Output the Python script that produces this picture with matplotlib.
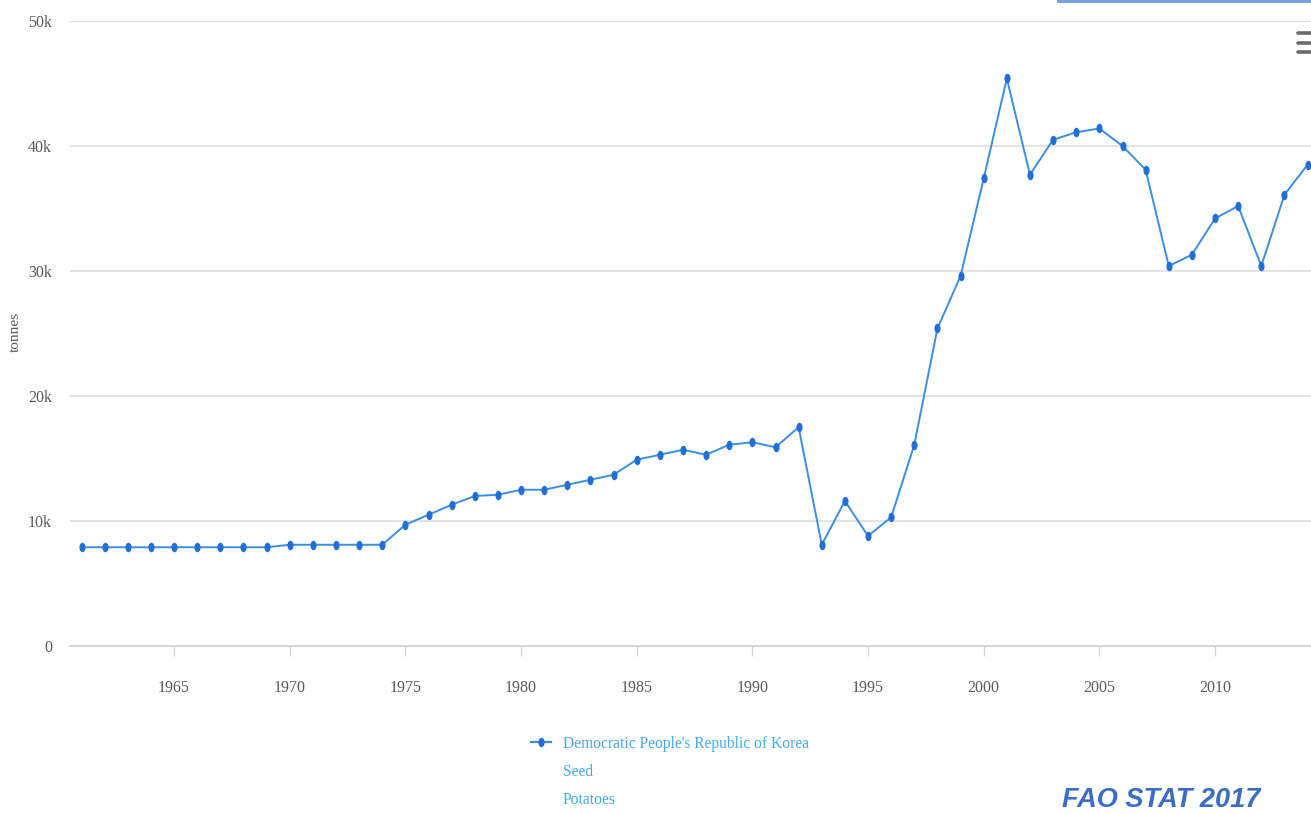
import matplotlib
matplotlib.use("Agg")
import matplotlib.pyplot as plt
from matplotlib.lines import Line2D
from matplotlib.patches import Rectangle
from matplotlib.path import Path

# Seed use of potatoes, Democratic People's Republic of Korea (tonnes)
years = list(range(1961, 2015))
seed_tonnes = [
    7900, 7900, 7900, 7900, 7900, 7900, 7900, 7900, 7900,   # 1961-1969
    8100, 8100, 8100, 8100, 8100,                           # 1970-1974
    9700, 10500, 11300, 12000, 12100,                       # 1975-1979
    12500, 12500, 12900, 13300, 13700,                      # 1980-1984
    14900, 15300, 15700, 15300, 16100,                      # 1985-1989
    16300, 15900, 17500, 8100, 11600,                       # 1990-1994
    8800, 10300, 16100, 25400, 29600,                       # 1995-1999
    37400, 45400, 37700, 40500, 41100,                      # 2000-2004
    41400, 40000, 38100, 30400, 31300,                      # 2005-2009
    34200, 35200, 30400, 36100, 38500,                      # 2010-2014
]
x_ticks = list(range(1965, 2011, 5))
y_ticks = [0, 10000, 20000, 30000, 40000, 50000]
y_tick_labels = ["0", "10k", "20k", "30k", "40k", "50k"]
legend_lines = ["Democratic People's Republic of Korea", "Seed", "Potatoes"]
y_title = "tonnes"
credit = "FAO STAT 2017"

W, H = 1311, 814
LINE_C = "#3a8fe3"
MARK_C = "#1f6fd6"
GRID_C = "#e3e3e3"
LABEL_C = "#5a5a5a"
SERIF = ["Liberation Serif", "DejaVu Serif"]


def fx(px):
    return px / W


def fy(py):
    return 1 - py / H


fig = plt.figure(figsize=(W / 100, H / 100), dpi=100)
fig.patch.set_facecolor("white")

ax_left, ax_right, ax_top, ax_bottom = 70, 1311, 21, 646
ax = fig.add_axes([fx(ax_left), fy(ax_bottom), (ax_right - ax_left) / W,
                   (ax_bottom - ax_top) / H])

px_per_year = (1215 - 174) / 45.0
x0 = 1961 - (81.5 - ax_left) / px_per_year
ax.set_xlim(x0, x0 + (ax_right - ax_left) / px_per_year)
ax.set_ylim(0, 50000)

# Slightly narrow oval point markers
circ = Path.unit_circle()
oval = Path(circ.vertices * [0.65, 1.0], circ.codes)

ax.plot(years, seed_tonnes, color=LINE_C, lw=1.4, marker=oval,
        markersize=6.8, markerfacecolor=MARK_C, markeredgecolor=MARK_C,
        markeredgewidth=0, zorder=3, clip_on=False)

for s in ("top", "right", "left"):
    ax.spines[s].set_visible(False)
ax.spines["bottom"].set_color("#d6d6d6")
ax.spines["bottom"].set_linewidth(1.4)

ax.set_yticks(y_ticks)
ax.set_yticklabels(y_tick_labels)
ax.set_xticks(x_ticks)
ax.set_xticklabels([str(y) for y in x_ticks])
ax.yaxis.grid(True, color=GRID_C, lw=1.4)
ax.set_axisbelow(True)
ax.tick_params(axis="y", length=0, pad=13, labelcolor=LABEL_C, labelsize=11.5)
ax.tick_params(axis="x", direction="out", length=7.5, width=1, color="#d6d6d6",
               pad=17, labelcolor=LABEL_C, labelsize=11.5)
for lab in ax.get_xticklabels() + ax.get_yticklabels():
    lab.set_family(SERIF)

fig.text(fx(15), fy(332), y_title, rotation=90, ha="center", va="center",
         fontsize=11, color=LABEL_C, family=SERIF)

# Legend
leg_y = 742
fig.add_artist(Line2D([fx(531), fx(551)], [fy(leg_y), fy(leg_y)],
                      color=LINE_C, lw=1.6))
fig.add_artist(Line2D([fx(541)], [fy(leg_y)], marker=oval, markersize=6.8,
                      color=MARK_C, markeredgewidth=0, lw=0))
for i, txt in enumerate(legend_lines):
    fig.text(fx(563), fy(leg_y + 2 + 28 * i), txt, ha="left", va="center",
             fontsize=11.2, color="#45ace6", family=SERIF)

fig.text(fx(1062), fy(807), credit, ha="left", va="baseline", fontsize=19.5,
         fontweight="bold", fontstyle="italic", color="#3b6cc7",
         family=["Liberation Sans", "DejaVu Sans"])

# Menu glyph and top accent bar
for yy in (33, 43, 52):
    fig.add_artist(Line2D([fx(1298), fx(1316)], [fy(yy), fy(yy)],
                          color="#6b6b6b", lw=2.6, solid_capstyle="round"))
fig.add_artist(Rectangle((fx(1057), fy(3)), (1311 - 1057) / W, 3 / H,
                         transform=fig.transFigure, color="#7aa0de", lw=0))

fig.savefig("out.png", dpi=100, facecolor="white")
